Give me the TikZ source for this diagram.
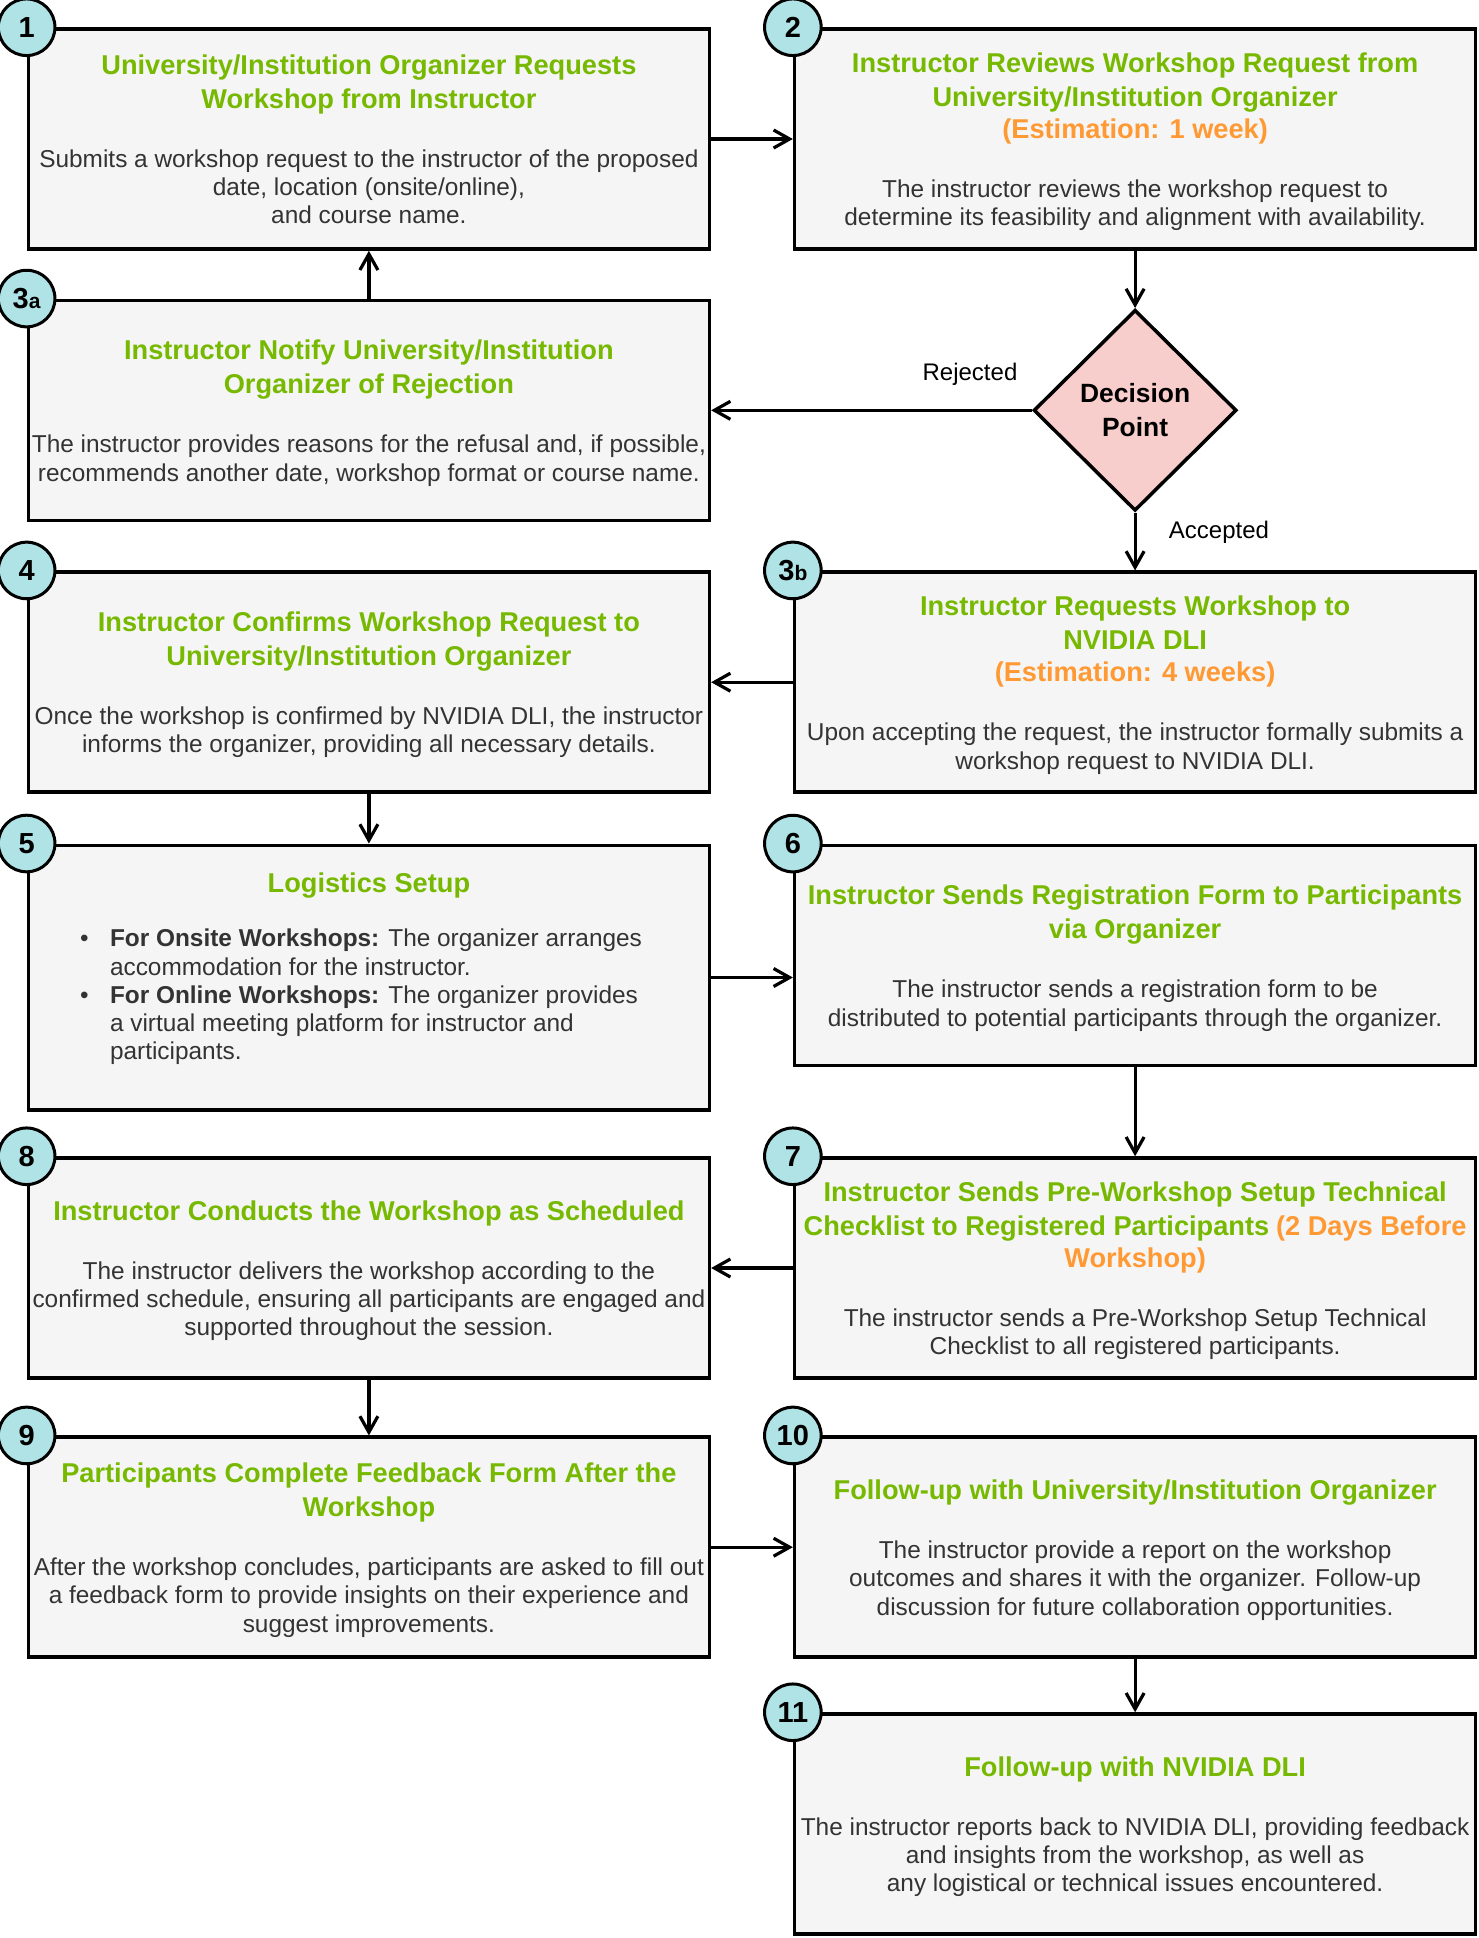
\documentclass[tikz,border=0pt]{standalone}
\usepackage{fontspec}
\setmainfont{Liberation Sans}
\usepackage{xcolor}
\usetikzlibrary{shapes.geometric, arrows.meta}

\definecolor{nvgreen}{HTML}{76B900}
\definecolor{estorange}{HTML}{FF9933}
\definecolor{bodygray}{HTML}{333333}
\definecolor{boxgray}{HTML}{F5F5F5}
\definecolor{numcyan}{HTML}{B0E3E6}
\definecolor{decred}{HTML}{F8CECC}

\newcommand{\bodyfont}{\fontsize{12.2}{14.1}\selectfont}
\newcommand{\boxtitle}[1]{{\fontsize{13.6}{17}\selectfont\bfseries\color{nvgreen}#1}}
\newcommand{\boxest}[1]{{\fontsize{13.6}{17}\selectfont\bfseries\color{estorange}#1}}
\newcommand{\subnum}[1]{{\fontsize{10.5}{10.5}\selectfont#1}}
\newcommand{\tgap}{2.9pt}
\newcommand{\egap}{2.1pt}
\newcommand{\bgap}{15.55pt}
\newcommand{\boxtop}{\rule{0pt}{13pt}}
\newcommand{\boxbot}{\rule[-3pt]{0pt}{3pt}}

\begin{document}
\begin{tikzpicture}[x=0.5pt, y=-0.5pt, >={Straight Barb[length=8pt,width=9pt]},
  stepbox/.style={draw, line width=1.75pt, fill=boxgray, text=bodygray, font=\bodyfont,
    align=center, inner sep=0pt, minimum width=340.5pt, minimum height=110pt},
  num/.style={circle, draw, line width=1.5pt, fill=numcyan, inner sep=0pt,
    minimum size=28.3pt, font=\fontsize{14.5}{14.5}\selectfont\bfseries},
  decision/.style={diamond, draw, line width=1.75pt, fill=decred, inner sep=0pt,
    minimum width=101.5pt, minimum height=100.5pt, align=center,
    font=\fontsize{13.2}{17}\selectfont\bfseries},
  flow/.style={->, line width=1.6pt},
  lbl/.style={font=\fontsize{12}{14}\selectfont, anchor=base}]
  \useasboundingbox[fill=white] (0,0) rectangle (1478,1938);

  % Request and review
  \node[stepbox] (s1) at (368.9,139) {\boxtop\boxtitle{University/Institution Organizer Requests}\\[\tgap]
    \boxtitle{Workshop from Instructor}\\[\bgap]
    Submits a workshop request to the instructor of the proposed\\
    date, location (onsite/online),\\
    and course name.\boxbot};
  \node[stepbox] (s2) at (1135.1,139) {\boxtop\boxtitle{Instructor Reviews Workshop Request from}\\[\tgap]
    \boxtitle{University/Institution Organizer}\\[\egap]
    \boxest{(Estimation: 1 week)}\\[\bgap]
    The instructor reviews the workshop request to\\
    determine its feasibility and alignment with availability.\boxbot};

  % Decision
  \node[stepbox] (s3a) at (368.9,410.3) {\boxtop\boxtitle{Instructor Notify University/Institution}\\[\tgap]
    \boxtitle{Organizer of Rejection}\\[\bgap]
    The instructor provides reasons for the refusal and, if possible,\\
    recommends another date, workshop format or course name.\boxbot};
  \node[decision] (dec) at (1135.1,410.3) {Decision\\Point};

  % Confirmation
  \node[stepbox] (s4) at (368.9,682.2) {\boxtop\boxtitle{Instructor Confirms Workshop Request to}\\[\tgap]
    \boxtitle{University/Institution Organizer}\\[\bgap]
    Once the workshop is confirmed by NVIDIA DLI, the instructor\\
    informs the organizer, providing all necessary details.\boxbot};
  \node[stepbox] (s3b) at (1135.1,682.2) {\boxtop\boxtitle{Instructor Requests Workshop to}\\[\tgap]
    \boxtitle{NVIDIA DLI}\\[\egap]
    \boxest{(Estimation: 4 weeks)}\\[\bgap]
    Upon accepting the request, the instructor formally submits a\\
    workshop request to NVIDIA DLI.\boxbot};

  % Logistics and registration
  \node[stepbox, minimum height=132.25pt] (s5) at (368.9,977.5) {\boxtop\boxtitle{Logistics Setup}\\[13.25pt]
    \makebox[288.9pt][l]{\begin{tabular}[t]{@{}l@{}l@{}}
      \makebox[15pt][l]{\textbullet} & \textbf{For Onsite Workshops:} The organizer arranges\\
      & accommodation for the instructor.\\
      \makebox[15pt][l]{\textbullet} & \textbf{For Online Workshops:} The organizer provides\\
      & a virtual meeting platform for instructor and\\
      & participants.\rule[-14.55pt]{0pt}{14.55pt}
    \end{tabular}}};
  \node[stepbox] (s6) at (1135.1,955.3) {\boxtop\boxtitle{Instructor Sends Registration Form to Participants}\\[\tgap]
    \boxtitle{via Organizer}\\[\bgap]
    The instructor sends a registration form to be\\
    distributed to potential participants through the organizer.\boxbot};

  % Workshop
  \node[stepbox] (s8) at (368.9,1268) {\boxtop\boxtitle{Instructor Conducts the Workshop as Scheduled}\\[\bgap]
    The instructor delivers the workshop according to the\\
    confirmed schedule, ensuring all participants are engaged and\\
    supported throughout the session.\boxbot};
  \node[stepbox] (s7) at (1135.1,1268) {\boxtop\boxtitle{Instructor Sends Pre-Workshop Setup Technical}\\[\tgap]
    \boxtitle{Checklist to Registered Participants} \boxest{(2 Days Before}\\[\egap]
    \boxest{Workshop)}\\[\bgap]
    The instructor sends a Pre-Workshop Setup Technical\\
    Checklist to all registered participants.\boxbot};

  % Follow-up
  \node[stepbox] (s9) at (368.9,1547.2) {\boxtop\boxtitle{Participants Complete Feedback Form After the}\\[\tgap]
    \boxtitle{Workshop}\\[\bgap]
    After the workshop concludes, participants are asked to fill out\\
    a feedback form to provide insights on their experience and\\
    suggest improvements.\boxbot};
  \node[stepbox] (s10) at (1135.1,1547.2) {\boxtop\boxtitle{Follow-up with University/Institution Organizer}\\[\bgap]
    The instructor provide a report on the workshop\\
    outcomes and shares it with the organizer. Follow-up\\
    discussion for future collaboration opportunities.\boxbot};
  \node[stepbox] (s11) at (1135.1,1824) {\boxtop\boxtitle{Follow-up with NVIDIA DLI}\\[\bgap]
    The instructor reports back to NVIDIA DLI, providing feedback\\
    and insights from the workshop, as well as\\
    any logistical or technical issues encountered.\boxbot};

  % Connectors
  \draw[flow] (s1) -- (s2);
  \draw[flow] (s2) -- (dec);
  \draw[flow] (dec) -- (s3a);
  \draw[flow] (dec) -- (s3b);
  \draw[flow] (s3a) -- (s1);
  \draw[flow] (s3b) -- (s4);
  \draw[flow] (s4) -- (s5);
  \draw[flow] (s5.east) -- (s5.east -| s6.west);
  \draw[flow] (s6) -- (s7);
  \draw[flow] (s7) -- (s8);
  \draw[flow] (s8) -- (s9);
  \draw[flow] (s9) -- (s10);
  \draw[flow] (s10) -- (s11);
  \node[lbl] (rej) at (970,380) {Rejected};
  \node[lbl] (acc) at (1219,538) {Accepted};

  % Step numbers
  \node[num] (n1) at (s1.north west) {1};
  \node[num] (n2) at (s2.north west) {2};
  \node[num] (n3a) at (s3a.north west) {3\subnum{a}};
  \node[num] (n3b) at (s3b.north west) {3\subnum{b}};
  \node[num] (n4) at (s4.north west) {4};
  \node[num] (n5) at (s5.north west) {5};
  \node[num] (n6) at (s6.north west) {6};
  \node[num] (n7) at (s7.north west) {7};
  \node[num] (n8) at (s8.north west) {8};
  \node[num] (n9) at (s9.north west) {9};
  \node[num] (n10) at (s10.north west) {10};
  \node[num] (n11) at (s11.north west) {11};
\end{tikzpicture}
\end{document}
